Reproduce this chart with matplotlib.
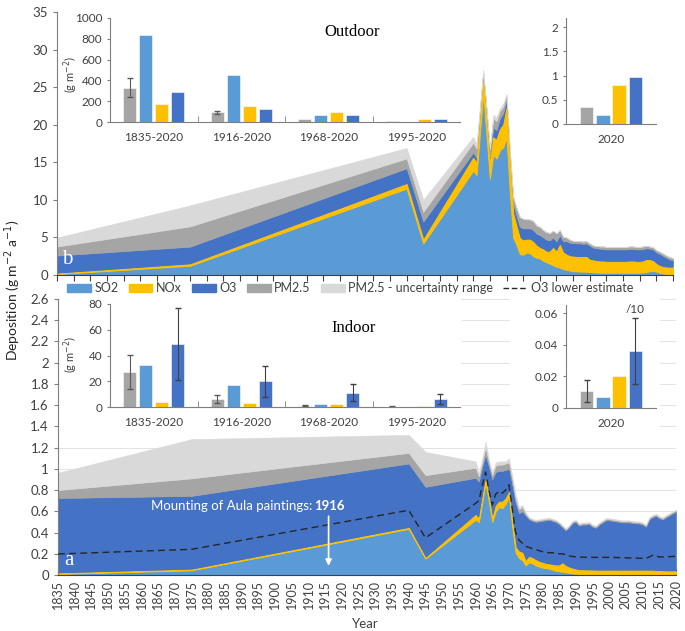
import matplotlib
matplotlib.use('Agg')
import matplotlib.pyplot as plt
from matplotlib.patches import Patch, Rectangle
from matplotlib.lines import Line2D

plt.rcParams['font.family'] = ['Lato', 'DejaVu Sans']
plt.rcParams['mathtext.fontset'] = 'dejavusans'

# ---------------- data ----------------
years = [1835, 1875, 1940, 1945] + list(range(1960, 2021))

# outdoor deposition (g m-2 a-1), stacked components
out_so2 = [0.13, 1.24, 11.5, 4.2,
           13.9, 13.3, 18.8, 24.2, 18.5, 12.8, 16.0, 15.5, 16.6, 17.0,
           18.3, 11.0, 5.0, 4.0, 2.8, 2.7, 3.0, 2.9, 2.5, 2.3,
           2.2, 1.9, 1.7, 1.5, 1.3, 1.1, 1.0, 0.8, 0.7, 0.6,
           0.5, 0.5, 0.45, 0.45, 0.45, 0.4, 0.35, 0.35, 0.3, 0.3,
           0.3, 0.3, 0.3, 0.3, 0.3, 0.3, 0.3, 0.3, 0.3, 0.3,
           0.3, 0.35, 0.4, 0.5, 0.55, 0.45, 0.3, 0.2, 0.15, 0.12, 0.1]
out_nox = [0.05, 0.18, 0.6, 0.5,
           1.7, 1.6, 1.3, 1.4, 1.7, 1.9, 2.3, 2.5, 2.8, 3.0,
           3.9, 3.5, 3.2, 2.5, 2.1, 1.9, 1.7, 1.8, 1.9, 1.6,
           1.4, 1.5, 1.4, 1.6, 2.3, 2.0, 3.0, 2.2, 2.0, 1.9,
           1.95, 1.9, 1.95, 1.95, 1.95, 1.6, 1.6, 1.5, 1.5, 1.5,
           1.45, 1.45, 1.45, 1.45, 1.45, 1.45, 1.45, 1.5, 1.5, 1.45,
           1.45, 1.45, 1.6, 1.5, 1.3, 1.0, 0.9, 0.85, 0.85, 0.85, 0.9]
out_o3 = [2.4, 2.35, 2.1, 2.4,
          0.7, 0.7, 0.8, 0.7, 0.9, 1.0, 1.3, 1.3, 1.4, 1.5,
          1.1, 1.2, 1.3, 1.4, 1.5, 1.6, 1.5, 1.5, 1.6, 1.6,
          1.7, 1.6, 1.6, 1.5, 1.4, 1.35, 1.3, 1.5, 1.8, 1.8,
          1.8, 1.8, 1.8, 1.75, 1.8, 1.9, 1.7, 1.7, 1.7, 1.65,
          1.65, 1.65, 1.65, 1.65, 1.65, 1.65, 1.65, 1.65, 1.65, 1.65,
          1.65, 1.65, 1.55, 1.5, 1.55, 1.55, 1.6, 1.5, 1.3, 1.1, 0.97]
out_pm = [1.2, 2.7, 1.3, 1.3,
          1.3, 1.2, 1.0, 0.8, 0.9, 1.0, 1.2, 1.2, 1.0, 0.9,
          0.6, 0.7, 0.8, 1.0, 1.3, 1.3, 1.2, 1.2, 1.2, 1.1,
          1.1, 1.0, 1.0, 1.0, 0.9, 1.1, 0.7, 0.6, 0.5, 0.4,
          0.3, 0.3, 0.3, 0.3, 0.3, 0.3, 0.3, 0.3, 0.3, 0.35,
          0.35, 0.35, 0.35, 0.35, 0.35, 0.35, 0.35, 0.35, 0.35, 0.35,
          0.35, 0.35, 0.3, 0.3, 0.3, 0.3, 0.3, 0.3, 0.3, 0.3, 0.3]
out_unc = [1.2, 2.8, 1.4, 1.6,
           0.8, 0.7, 0.5, 0.2, 0.3, 0.3, 0.5, 0.5, 0.4, 0.4,
           0.2, 0.3, 0.2, 0.1, 0, 0, 0, 0, 0, 0,
           0, 0, 0, 0, 0, 0, 0, 0, 0, 0,
           0, 0, 0, 0, 0, 0, 0, 0, 0, 0,
           0, 0, 0, 0, 0, 0, 0, 0, 0, 0,
           0, 0, 0, 0, 0, 0, 0, 0, 0, 0, 0]

# indoor deposition (g m-2 a-1)
in_so2 = [0.01, 0.045, 0.435, 0.155,
          0.52, 0.50, 0.69, 0.87, 0.69, 0.50, 0.60, 0.64, 0.63, 0.67,
          0.74, 0.45, 0.21, 0.16, 0.14, 0.09, 0.12, 0.11, 0.09, 0.08,
          0.07, 0.065, 0.06, 0.05, 0.04, 0.035, 0.03, 0.025, 0.02, 0.015,
          0.012, 0.01, 0.01, 0.01, 0.01, 0.01, 0.008, 0.008, 0.008, 0.008,
          0.008, 0.008, 0.008, 0.008, 0.008, 0.008, 0.008, 0.008, 0.008, 0.008,
          0.008, 0.008, 0.008, 0.008, 0.008, 0.008, 0.008, 0.008, 0.008, 0.008, 0.008]
in_nox = [0.005, 0.005, 0.008, 0.004,
          0.045, 0.03, 0.03, 0.025, 0.03, 0.03, 0.05, 0.05, 0.06, 0.05,
          0.04, 0.04, 0.05, 0.06, 0.07, 0.04, 0.05, 0.05, 0.05, 0.045,
          0.045, 0.04, 0.04, 0.045, 0.05, 0.055, 0.08, 0.06, 0.05, 0.045,
          0.04, 0.035, 0.035, 0.033, 0.033, 0.033, 0.033, 0.033, 0.033, 0.033,
          0.033, 0.033, 0.033, 0.033, 0.033, 0.033, 0.033, 0.033, 0.033, 0.033,
          0.033, 0.033, 0.033, 0.033, 0.03, 0.03, 0.028, 0.026, 0.026, 0.026, 0.026]
in_o3 = [0.71, 0.695, 0.607, 0.671,
         0.35, 0.35, 0.30, 0.235, 0.30, 0.37, 0.32, 0.29, 0.29, 0.27,
         0.22, 0.36, 0.42, 0.36, 0.39, 0.43, 0.355, 0.35, 0.36, 0.38,
         0.395, 0.41, 0.42, 0.415, 0.41, 0.39, 0.34, 0.335, 0.38, 0.43,
         0.448, 0.42, 0.43, 0.432, 0.437, 0.412, 0.404, 0.434, 0.454, 0.474,
         0.474, 0.469, 0.464, 0.459, 0.454, 0.454, 0.454, 0.449, 0.444, 0.444,
         0.434, 0.414, 0.484, 0.504, 0.519, 0.497, 0.487, 0.51, 0.527, 0.547, 0.562]
in_pm = [0.075, 0.165, 0.10, 0.11,
         0.095, 0.05, 0.05, 0.07, 0.04, 0.04, 0.06, 0.06, 0.06, 0.06,
         0.06, 0.05, 0.04, 0.04, 0.04, 0.02, 0.012, 0.012, 0.012, 0.012,
         0.012, 0.012, 0.012, 0.012, 0.012, 0.012, 0.012, 0.012, 0.012, 0.012,
         0.012, 0.012, 0.012, 0.012, 0.012, 0.012, 0.012, 0.012, 0.012, 0.012,
         0.012, 0.012, 0.012, 0.012, 0.012, 0.012, 0.012, 0.012, 0.012, 0.012,
         0.012, 0.012, 0.012, 0.012, 0.012, 0.012, 0.012, 0.012, 0.012, 0.012, 0.012]
in_unc = [0.163, 0.37, 0.17, 0.22,
          0.06, 0.03, 0.03, 0.055, 0.03, 0.02, 0.03, 0.03, 0.03, 0.02,
          0.04, 0.03, 0.04, 0.02, 0.02, 0.01, 0.008, 0.008, 0.008, 0.008,
          0.008, 0.008, 0.008, 0.008, 0.008, 0.008, 0.008, 0.008, 0.008, 0.008,
          0.008, 0.008, 0.008, 0.008, 0.008, 0.008, 0.008, 0.008, 0.008, 0.008,
          0.008, 0.008, 0.008, 0.008, 0.008, 0.008, 0.008, 0.008, 0.008, 0.008,
          0.008, 0.008, 0.008, 0.008, 0.008, 0.008, 0.008, 0.008, 0.008, 0.008, 0.008]
in_o3_low = [0.198, 0.242, 0.61, 0.35,
             0.675, 0.70, 0.84, 0.97, 0.80, 0.66, 0.76, 0.79, 0.77, 0.80,
             0.85, 0.62, 0.40, 0.33, 0.30, 0.27, 0.26, 0.25, 0.24, 0.23,
             0.22, 0.215, 0.21, 0.21, 0.205, 0.20, 0.20, 0.19, 0.18, 0.175,
             0.17, 0.17, 0.168, 0.167, 0.167, 0.166, 0.166, 0.166, 0.166, 0.166,
             0.166, 0.165, 0.165, 0.164, 0.163, 0.162, 0.161, 0.16, 0.16, 0.158,
             0.157, 0.157, 0.17, 0.185, 0.18, 0.17, 0.17, 0.17, 0.172, 0.175, 0.175]

# inset bar data: order PM2.5, SO2, NOx, O3
periods = ['1835-2020', '1916-2020', '1968-2020', '1995-2020']
out_bar_pm = [330, 92, 30, 8]
out_bar_so2 = [835, 455, 70, 2]
out_bar_nox = [175, 150, 97, 30]
out_bar_o3 = [285, 125, 65, 28]
out_pm_err_lo = [240, 78, 30, 8]
out_pm_err_hi = [420, 106, 30, 8]

out2020 = [0.36, 0.19, 0.80, 0.97]

in_bar_pm = [27.5, 6.0, 1.0, 0.3]
in_bar_so2 = [32.5, 17.0, 2.0, 0.1]
in_bar_nox = [4.0, 3.0, 2.0, 0.6]
in_bar_o3 = [49.0, 20.5, 10.6, 6.0]
in_pm_err_lo = [14.0, 3.0, 0.5, 0.1]
in_pm_err_hi = [40.5, 9.0, 1.5, 0.5]
in_o3_err_lo = [21.0, 8.0, 4.5, 2.5]
in_o3_err_hi = [77.0, 32.0, 17.5, 10.0]

in2020 = [0.011, 0.007, 0.0205, 0.036]
in2020_err_lo = [0.004, None, None, 0.0155]
in2020_err_hi = [0.0175, None, None, 0.057]

C_SO2, C_NOX, C_O3, C_PM, C_UNC = '#5B9BD5', '#FFC000', '#4472C4', '#A5A5A5', '#D9D9D9'
bar_colors = [C_PM, C_SO2, C_NOX, C_O3]
TXT = '#404040'
AX = '#7F7F7F'

fig = plt.figure(figsize=(6.85, 6.31), dpi=100)
W, H = 685.0, 631.0


def fx(px):
    return px / W


def fy(py):
    return 1 - py / H


def stack(ax, layers):
    cols = [C_SO2, C_NOX, C_O3, C_PM, C_UNC]
    polys = ax.stackplot(years, *layers, colors=cols)
    for p, c in zip(polys, cols):
        p.set_edgecolor(c)
        p.set_linewidth(0.4)
    polys[1].set_linewidth(0.7)
    polys[1].set_zorder(1.5)


# ---------------- outdoor main (b) ----------------
ax_b = fig.add_axes([fx(57), fy(275), fx(616), 263 / H])
stack(ax_b, [out_so2, out_nox, out_o3, out_pm, out_unc])
ax_b.set_xlim(1835, 2020)
ax_b.set_ylim(0, 35)
ax_b.set_yticks(range(0, 36, 5))
ax_b.set_xticks(range(1835, 2021, 5))
ax_b.set_xticklabels([])
ax_b.tick_params(axis='y', labelsize=9.5, colors=TXT, length=3, color=AX)
ax_b.tick_params(axis='x', length=4, color='#404040', direction='out')
for s in ['top', 'right']:
    ax_b.spines[s].set_visible(False)
ax_b.spines['left'].set_color(AX)
ax_b.spines['bottom'].set_color('#404040')
ax_b.text(1836.5, 2.0, 'b', color='white', family='Liberation Serif', fontsize=15, va='center')

# ---------------- indoor main (a) ----------------
ax_a = fig.add_axes([fx(58), fy(575), fx(618), 276 / H])
ax_a.set_axisbelow(True)
ax_a.grid(axis='y', color='#E3E3E3', lw=0.7)
stack(ax_a, [in_so2, in_nox, in_o3, in_pm, in_unc])
ax_a.plot(years, in_o3_low, color='#262626', lw=1.0, ls=(0, (5, 3)), zorder=3)
ax_a.set_xlim(1835, 2020)
ax_a.set_ylim(0, 2.6)
yt = [i / 5 for i in range(14)]
ax_a.set_yticks(yt)
ax_a.set_yticklabels([f'{v:g}' for v in yt])
ax_a.set_xticks(range(1835, 2021, 5))
ax_a.set_xticks(range(1835, 2021), minor=True)
ax_a.tick_params(axis='x', which='both', direction='in', length=4, color='#404040',
                 labelrotation=90, labelsize=9, labelcolor=TXT)
ax_a.tick_params(axis='y', labelsize=9.5, colors=TXT, length=3, color=AX)
for s in ['top', 'right']:
    ax_a.spines[s].set_visible(False)
ax_a.spines['left'].set_color(AX)
ax_a.spines['bottom'].set_color('#404040')
ax_a.text(1837.0, 0.14, 'a', color='white', family='Liberation Serif', fontsize=15, va='center')
ax_a.annotate('', xy=(1916, 0.06), xytext=(1916, 0.58),
              arrowprops=dict(arrowstyle='-|>', color='white', lw=1.2, mutation_scale=9))
ax_a.text(1911.0, 0.65, 'Mounting of Aula paintings:', ha='right', va='center',
          color='white', fontsize=9.5)
ax_a.text(1911.7, 0.65, '1916', ha='left', va='center', color='white',
          fontsize=9.5, fontweight='bold')

# white backgrounds behind the indoor insets (hide the grid)
for x0, x1 in [(60, 462), (510, 660)]:
    fig.add_artist(Rectangle((fx(x0), fy(432)), (x1 - x0) / W, (432 - 296) / H,
                             transform=fig.transFigure, facecolor='white',
                             edgecolor='none', zorder=1))


# ---------------- insets ----------------
def style_inset(ax, ylim, yticks, ylabels):
    ax.set_facecolor('white')
    ax.set_zorder(2)
    ax.set_ylim(*ylim)
    ax.set_yticks(yticks)
    ax.set_yticklabels(ylabels)
    for s in ['top', 'right']:
        ax.spines[s].set_visible(False)
    for s in ['left', 'bottom']:
        ax.spines[s].set_color(AX)
        ax.spines[s].set_linewidth(0.8)
    ax.tick_params(axis='y', labelsize=8.5, colors=TXT, length=2, color=AX)
    ax.tick_params(axis='x', which='major', length=0, labelsize=8.5,
                   labelcolor=TXT, pad=7)
    ax.tick_params(axis='x', which='minor', length=4, direction='in', color=AX)


def period_bars(ax, groups, sp, bw):
    offs = [-1.5 * sp, -0.5 * sp, 0.5 * sp, 1.5 * sp]
    for k, (vals, c) in enumerate(zip(groups, bar_colors)):
        ax.bar([i + offs[k] for i in range(len(vals))], vals, width=bw, color=c,
               edgecolor='white', linewidth=0.4)
    return offs


# outdoor periods
ax_o1 = fig.add_axes([fx(110), fy(122), fx(350), 104 / H])
offs = period_bars(ax_o1, [out_bar_pm, out_bar_so2, out_bar_nox, out_bar_o3], 0.183, 0.148)
for i in range(2):
    ax_o1.errorbar(i + offs[0], out_bar_pm[i],
                   yerr=[[out_bar_pm[i] - out_pm_err_lo[i]], [out_pm_err_hi[i] - out_bar_pm[i]]],
                   fmt='none', ecolor='#595959', elinewidth=0.8, capsize=2)
ax_o1.set_xlim(-0.5, 3.5)
ax_o1.set_xticks(range(4))
ax_o1.set_xticklabels(periods)
ax_o1.set_xticks([0.5, 1.5, 2.5], minor=True)
style_inset(ax_o1, (0, 1000), range(0, 1001, 200), [str(v) for v in range(0, 1001, 200)])
ax_o1.set_ylabel('(g m$^{-2}$)', fontsize=8, color=TXT)
ax_o1.yaxis.set_label_coords(-30 / 350, 0.46)

# outdoor 2020
ax_o2 = fig.add_axes([fx(566), fy(124), fx(90), 106 / H])
offs2 = [-1.5 * 0.178, -0.5 * 0.178, 0.5 * 0.178, 1.5 * 0.178]
ax_o2.bar(offs2, out2020, width=0.145, color=bar_colors, edgecolor='white', linewidth=0.4)
ax_o2.set_xlim(-0.5, 0.5)
ax_o2.set_xticks([0])
ax_o2.set_xticklabels(['2020'])
style_inset(ax_o2, (0, 2.19), [0, 0.5, 1, 1.5, 2], ['0', '0.5', '1', '1.5', '2'])

# indoor periods
ax_i1 = fig.add_axes([fx(110), fy(407), fx(350), 103 / H])
offs = period_bars(ax_i1, [in_bar_pm, in_bar_so2, in_bar_nox, in_bar_o3], 0.183, 0.148)
for i in range(4):
    ax_i1.errorbar(i + offs[0], in_bar_pm[i],
                   yerr=[[in_bar_pm[i] - in_pm_err_lo[i]], [in_pm_err_hi[i] - in_bar_pm[i]]],
                   fmt='none', ecolor='#595959', elinewidth=0.8, capsize=2)
    ax_i1.errorbar(i + offs[3], in_bar_o3[i],
                   yerr=[[in_bar_o3[i] - in_o3_err_lo[i]], [in_o3_err_hi[i] - in_bar_o3[i]]],
                   fmt='none', ecolor='#404040', elinewidth=0.8, capsize=2)
ax_i1.set_xlim(-0.5, 3.5)
ax_i1.set_xticks(range(4))
ax_i1.set_xticklabels(periods)
ax_i1.set_xticks([0.5, 1.5, 2.5], minor=True)
style_inset(ax_i1, (0, 80), range(0, 81, 20), [str(v) for v in range(0, 81, 20)])
ax_i1.set_ylabel('(g m$^{-2}$)', fontsize=8, color=TXT)
ax_i1.yaxis.set_label_coords(-30 / 350, 0.51)

# indoor 2020
ax_i2 = fig.add_axes([fx(566), fy(408), fx(90), 103 / H])
ax_i2.bar(offs2, in2020, width=0.145, color=bar_colors, edgecolor='white', linewidth=0.4)
for k in (0, 3):
    ax_i2.errorbar(offs2[k], in2020[k],
                   yerr=[[in2020[k] - in2020_err_lo[k]], [in2020_err_hi[k] - in2020[k]]],
                   fmt='none', ecolor='#404040', elinewidth=0.8, capsize=2)
ax_i2.text(offs2[3], 0.0625, '/10', ha='center', va='center', fontsize=8.5, color=TXT)
ax_i2.set_xlim(-0.5, 0.5)
ax_i2.set_xticks([0])
ax_i2.set_xticklabels(['2020'])
style_inset(ax_i2, (0, 0.0652), [0, 0.02, 0.04, 0.06], ['0', '0.02', '0.04', '0.06'])

# titles inside the insets
fig.text(fx(352), fy(32), 'Outdoor', ha='center', va='center',
         family='Liberation Serif', fontsize=12, zorder=5)
fig.text(fx(354), fy(328), 'Indoor', ha='center', va='center',
         family='Liberation Serif', fontsize=12, zorder=5)

# ---------------- legend & axis labels ----------------
handles = [Patch(color=C_SO2), Patch(color=C_NOX), Patch(color=C_O3),
           Patch(color=C_PM), Patch(color=C_UNC),
           Line2D([], [], color='#262626', lw=1.0, ls=(0, (4, 2)))]
labels = ['SO2', 'NOx', 'O3', 'PM2.5', 'PM2.5 - uncertainty range', 'O3 lower estimate']
fig.legend(handles, labels, loc='center', bbox_to_anchor=(fx(350), fy(288)), ncol=6,
           frameon=False, fontsize=9, handlelength=1.9, handleheight=0.6,
           columnspacing=0.8, handletextpad=0.3, labelcolor=TXT)

fig.text(fx(13), fy(290), 'Deposition (g m$^{-2}$ a$^{-1}$)', rotation=90,
         ha='center', va='center', fontsize=10, color='#262626')
fig.text(fx(365), fy(624), 'Year', ha='center', va='center', fontsize=9.5, color=TXT)

fig.savefig('out.png', dpi=100)
